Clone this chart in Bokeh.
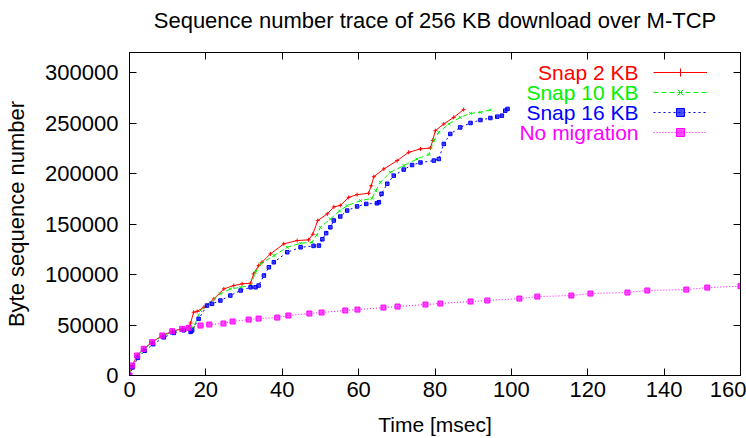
from bokeh.plotting import figure
from bokeh.models import (LinearAxis, FixedTicker, BasicTickFormatter, Label,
                          Legend, LegendItem)
from bokeh.embed import file_html
from bokeh.resources import INLINE

# ---------------- data ----------------
x_ticks = [0, 20, 40, 60, 80, 100, 120, 140, 160]
y_ticks = [0, 50000, 100000, 150000, 200000, 250000, 300000]

title_text = "Sequence number trace of 256 KB download over M-TCP"
series_names = ["Snap 2 KB", "Snap 10 KB", "Snap 16 KB", "No migration"]
series_colors = ["#ff0000", "#00f000", "#0000ff", "#ff00ff"]

t_snap2 = [0, 0.7, 2.0, 3.7, 5.9, 8.6, 11.2, 13.8, 15.4, 16.0, 16.8, 17.7, 19.5,
           22.1, 24.7, 27.3, 29.5, 31.7, 32.5, 33.8, 34.7, 36.9, 40.4, 43.9,
           46.9, 48.0, 49.3, 51.8, 53.5, 55.2, 57.4, 59.6, 62.6, 63.3, 64.0,
           66.6, 70.1, 73.1, 76.2, 78.8, 79.4, 80.1, 82.3, 84.9, 87.5]
seq_snap2 = [0, 9900, 19800, 26400, 33000, 39600, 43900, 46200, 47500, 52000,
             62700, 63500, 67600, 75900, 85800, 89100, 90800, 91400, 100700,
             108900, 112200, 120500, 130400, 133700, 134400, 140000, 153500,
             160100, 167000, 168500, 176500, 179200, 180500, 188000, 197000,
             204600, 212900, 221100, 224500, 225400, 233000, 242600, 249200,
             255700, 263400]

t_snap10 = [0, 0.7, 2.0, 3.7, 5.9, 8.6, 11.2, 13.8, 15.5, 16.8, 18.6, 21.2,
            23.8, 26.4, 29.1, 31.7, 33.0, 34.3, 37.8, 41.3, 44.8, 47.8, 49.0,
            50.0, 52.6, 55.0, 57.0, 60.5, 63.5, 64.5, 65.7, 68.3, 71.8, 75.3,
            78.4, 79.7, 81.0, 83.6, 86.6, 89.3, 91.9, 94.5]
seq_snap10 = [0, 9400, 19000, 25800, 32400, 39000, 43300, 45600, 46700, 47800,
              64400, 72600, 80900, 85800, 87400, 89100, 102300, 110600, 118800,
              127000, 131000, 132000, 139000, 146800, 155100, 163000, 168300,
              173300, 175500, 183000, 191400, 201300, 207900, 214500, 219000,
              232700, 240900, 249200, 255700, 259700, 260700, 263100]

t_snap16 = [0, 0.8, 2.2, 4.0, 6.2, 9.0, 11.6, 14.2, 16.0, 16.4, 18.1, 20.3,
            21.6, 23.8, 26.4, 29.1, 31.7, 33.0, 33.8, 35.2, 36.5, 37.8, 41.3,
            44.8, 48.2, 49.6, 50.5, 51.5, 52.6, 53.5, 55.2, 57.0, 59.6, 62.0,
            64.8, 65.3, 66.0, 67.5, 69.2, 71.8, 74.0, 76.2, 79.7, 81.0, 82.3,
            84.0, 86.6, 89.3, 91.9, 94.5, 96.3, 97.5, 98.4, 99.0]
seq_snap16 = [0, 8000, 17500, 24500, 31000, 37800, 42200, 44800, 43200, 44600,
              56100, 69300, 71000, 74300, 79200, 84200, 87400, 87400, 89100,
              99000, 107200, 112200, 122100, 127000, 128400, 128700, 135000,
              141000, 146800, 153500, 157500, 163400, 167500, 170000, 170600,
              171600, 180000, 190000, 198000, 204000, 208500, 211000, 212900,
              214500, 229400, 239300, 245800, 250200, 253100, 255100, 256400,
              257400, 262400, 264100]

t_nomig = [0, 0.7, 2.0, 3.7, 5.9, 8.6, 11.2, 13.8, 15.5, 18.6, 20.9, 24.6,
           27.0, 31.2, 33.8, 38.7, 41.6, 47.1, 50.3, 56.5, 59.7, 66.5, 70.2,
           77.5, 81.4, 89.3, 93.7, 102.1, 106.8, 115.7, 120.7, 130.4, 135.6,
           145.8, 151.3, 160.0]
seq_nomig = [0, 9900, 19800, 26400, 33000, 39600, 43900, 46200, 47200, 49500,
             50500, 51500, 53500, 55400, 56400, 57400, 59400, 61400, 62400,
             64400, 65300, 67300, 68300, 70300, 71300, 73300, 74300, 76200,
             78200, 79200, 81200, 82200, 84200, 85100, 87100, 88500]

FONT = "Liberation Sans"

p = figure(width=746, height=438, x_range=(0, 160), y_range=(0, 320000),
           output_backend="svg", toolbar_location=None,
           min_border_left=129, min_border_right=6,
           min_border_top=52, min_border_bottom=63)
p.grid.visible = False
p.outline_line_color = "black"
p.outline_line_width = 1
p.outline_line_alpha = 1.0
p.background_fill_color = "white"
p.border_fill_color = "white"

xa = p.xaxis[0]
ya = p.yaxis[0]
for ax, ticks in ((xa, x_ticks), (ya, y_ticks)):
    ax.ticker = FixedTicker(ticks=ticks)
    ax.major_tick_in = 7
    ax.major_tick_out = 0
    ax.minor_tick_line_color = None
    ax.major_label_text_font = FONT
    ax.major_label_text_font_size = "22px"
    ax.major_label_text_color = "black"
    ax.axis_label_text_font = FONT
    ax.axis_label_text_font_style = "normal"
    ax.axis_label_text_color = "black"
    ax.axis_line_color = "black"
    ax.major_tick_line_color = "black"
ya.formatter = BasicTickFormatter(use_scientific=False)
ya.axis_label = "Byte sequence number"
ya.axis_label_text_font_size = "22px"
ya.major_label_standoff = 11
ya.axis_label_standoff = 13
xa.axis_label = "Time [msec]"
xa.axis_label_text_font_size = "21px"
xa.major_label_standoff = 6
xa.axis_label_standoff = 13

# mirrored ticks on the top and right (drawn as unlabeled minor ticks);
# the top one carries the chart title as its axis label
for place, ticks in (("above", x_ticks), ("right", y_ticks)):
    m = LinearAxis(ticker=FixedTicker(ticks=[], minor_ticks=ticks),
                   minor_tick_in=7, minor_tick_out=0,
                   minor_tick_line_color="black", major_tick_line_color=None,
                   major_label_text_font_size="0px", major_label_standoff=0,
                   axis_line_color="black")
    if place == "above":
        m.axis_label = title_text
        m.axis_label_text_font = FONT
        m.axis_label_text_font_size = "22px"
        m.axis_label_text_font_style = "normal"
        m.axis_label_text_color = "black"
        m.axis_label_standoff = 20
    p.add_layout(m, place)

items = []
styles = [
    dict(dash="solid", marker="cross", size=4),
    dict(dash="5 3", marker="x", size=4),
    dict(dash="2 3", marker="square", size=3.5),
    dict(dash="1 2", marker="square", size=5),
]
data = [(t_snap2, seq_snap2), (t_snap10, seq_snap10),
        (t_snap16, seq_snap16), (t_nomig, seq_nomig)]
for (tx, sy), col, st in zip(data, series_colors, styles):
    rl = p.line(tx, sy, line_color=col, line_width=1, line_dash=st["dash"])
    rs = p.scatter(tx, sy, marker=st["marker"], size=st["size"],
                   line_color=col, fill_color=col, fill_alpha=0.7, line_width=1)
    items.append(LegendItem(label=" ", renderers=[rl, rs]))

legend = Legend(items=items, location=(524, 233), orientation="vertical",
                glyph_width=54, glyph_height=20, label_width=0, label_height=20,
                label_standoff=0, spacing=0, padding=0, margin=0,
                border_line_alpha=0, background_fill_alpha=0,
                label_text_font_size="1px")
p.add_layout(legend)

for i, (name, col) in enumerate(zip(series_names, series_colors)):
    p.add_layout(Label(x=509, y=303 - 20 * i, x_units="screen", y_units="screen",
                       text=name, text_color=col, text_font=FONT,
                       text_font_size="21px", text_align="right",
                       text_baseline="middle"))

open("out.html", "w").write(file_html(p, INLINE))
